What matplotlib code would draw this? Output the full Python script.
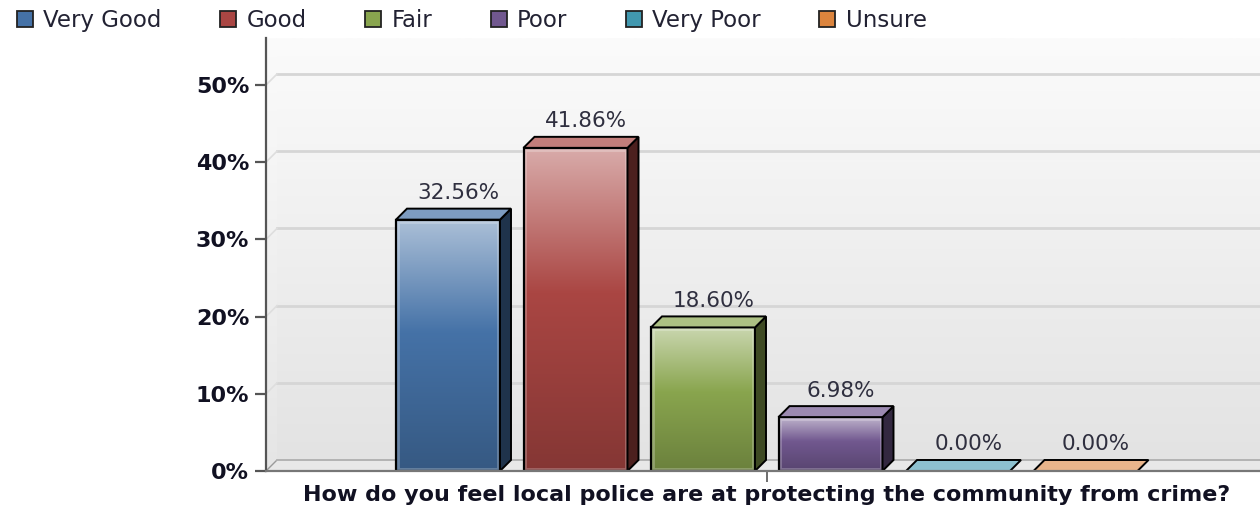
import matplotlib
matplotlib.use("Agg")
import matplotlib.pyplot as plt
from matplotlib.patches import Rectangle, Polygon, Patch
from matplotlib.colors import LinearSegmentedColormap, to_rgb
import numpy as np

categories = ["Very Good", "Good", "Fair", "Poor", "Very Poor", "Unsure"]
values = [32.56, 41.86, 18.60, 6.98, 0.00, 0.00]
colors = ["#4572A7", "#AA4643", "#89A54E", "#71588F", "#4198AF", "#DB843D"]
question = "How do you feel local police are at protecting the community from crime?"
yticks = [0, 10, 20, 30, 40, 50]

W, H = 1260, 513
fig = plt.figure(figsize=(W / 100, H / 100), dpi=100)
fig.patch.set_facecolor("white")

# axes placed in pixels: left axis x=266, baseline y=471, top y=38
ax_l, ax_r, ax_b, ax_t = 266, 1260, 471, 38
ax = fig.add_axes([ax_l / W, (H - ax_b) / H, (ax_r - ax_l) / W, (ax_b - ax_t) / H])

px_x = 127.5  # pixels per category
px_y = 7.72   # pixels per percent
x0 = -(448 - ax_l) / px_x
ax.set_xlim(x0, x0 + (ax_r - ax_l) / px_x)
ax.set_ylim(0, (ax_b - ax_t) / px_y)
xl, xr = ax.get_xlim()
ytop = ax.get_ylim()[1]

# 3d depth in data units
ddx = 11 / px_x
ddy = 11 / px_y
bw = 104 / px_x


def mix(c, other, t):
    c = np.array(to_rgb(c))
    o = np.array(to_rgb(other))
    return tuple(c * (1 - t) + o * t)


# back wall
wall = np.linspace(0, 1, 256).reshape(-1, 1)
wall_cmap = LinearSegmentedColormap.from_list("wall", ["#e3e3e3", "#fbfbfb"])
ax.imshow(wall, extent=[xl + ddx, xr, ddy, ytop], origin="lower", cmap=wall_cmap,
          aspect="auto", zorder=0)
# left side wall
side_wall = Polygon([(xl, 0), (xl + ddx, ddy), (xl + ddx, ytop), (xl, ytop)],
                    closed=True, facecolor="none", edgecolor="none")
ax.add_patch(side_wall)
im = ax.imshow(wall, extent=[xl, xl + ddx, 0, ytop], origin="lower", cmap=wall_cmap,
               aspect="auto", zorder=0, alpha=0.9)
im.set_clip_path(side_wall)

# grid lines on back wall and side
for t in yticks[1:]:
    ax.plot([xl + ddx, xr], [t + ddy, t + ddy], color="#d6d6d6", lw=2, zorder=1)
    ax.plot([xl, xl + ddx], [t, t + ddy], color="#dedede", lw=1.2, zorder=1)

# floor
floor = Polygon([(xl, 0), (xl + ddx, ddy), (xr + ddx, ddy), (xr, 0)], closed=True,
                facecolor="#e8e8e8", edgecolor="#9a9a9a", lw=1, zorder=1)
ax.add_patch(floor)
ax.plot([xl + ddx, xr], [ddy, ddy], color="#b5b5b5", lw=1.2, zorder=1)

# bars
grad = np.linspace(0, 1, 256).reshape(-1, 1)
for i, (v, c) in enumerate(zip(values, colors)):
    left = i - bw / 2
    right = i + bw / 2
    if v > 0:
        cmap = LinearSegmentedColormap.from_list(
            "b%d" % i, [(0, mix(c, "black", 0.22)), (0.55, to_rgb(c)),
                        (1, mix(c, "white", 0.55))])
        rect = Rectangle((left, 0), bw, v, facecolor="none", edgecolor="black",
                         lw=1.6, zorder=4)
        ax.add_patch(rect)
        img = ax.imshow(grad, extent=[left, right, 0, v], origin="lower", cmap=cmap,
                        aspect="auto", zorder=3)
        img.set_clip_path(rect)
        # soft inner bevel
        ax.add_patch(Rectangle((left + 0.012, 0.25), bw - 0.024, v - 0.5,
                               facecolor="none", edgecolor=(1, 1, 1, 0.25),
                               lw=2, zorder=3.5))
        side = Polygon([(right, 0), (right + ddx, ddy), (right + ddx, v + ddy),
                        (right, v)], closed=True, facecolor=mix(c, "black", 0.55),
                       edgecolor="black", lw=1.4, zorder=4)
        ax.add_patch(side)
    top = Polygon([(left, v), (left + ddx, v + ddy), (right + ddx, v + ddy),
                   (right, v)], closed=True,
                  facecolor=mix(c, "white", 0.3 if v > 0 else 0.4),
                  edgecolor="black", lw=1.4, zorder=4)
    ax.add_patch(top)
    ax.annotate("%.2f%%" % v, (i + ddx * 0.95, v + ddy), xytext=(0, 4),
                textcoords="offset points", ha="center", va="bottom",
                fontsize=15.5, color="#2f2f3f", zorder=5)

# axes lines
for s in ["top", "right"]:
    ax.spines[s].set_visible(False)
ax.spines["left"].set_color("#555555")
ax.spines["bottom"].set_color("#777777")
ax.spines["left"].set_linewidth(1.6)
ax.spines["bottom"].set_linewidth(1.6)
ax.spines["left"].set_zorder(6)
ax.spines["bottom"].set_zorder(6)

ax.set_yticks(yticks)
ax.set_yticklabels(["%d%%" % t for t in yticks], fontsize=16, fontweight="bold",
                   color="#111122")
ax.tick_params(axis="y", length=8, width=1.6, color="#555555", pad=4)
ax.set_xticks([(len(values) - 1) / 2])
ax.set_xticklabels([question], fontsize=16, fontweight="bold", color="#111122")
ax.tick_params(axis="x", length=8, width=1.2, color="#555555", pad=2)

# legend
handles = [Patch(facecolor=c, edgecolor="#222222", lw=1.3) for c in colors]
fig.legend(handles, categories, loc="upper left", bbox_to_anchor=(17 / W, 1 - 9 / H),
           ncol=6, frameon=False, fontsize=16.5, handlelength=0.7, handleheight=0.7,
           handletextpad=0.45, columnspacing=2.55, borderpad=0, borderaxespad=0,
           labelcolor="#222233")

fig.savefig("out.png", dpi=100, facecolor="white")
